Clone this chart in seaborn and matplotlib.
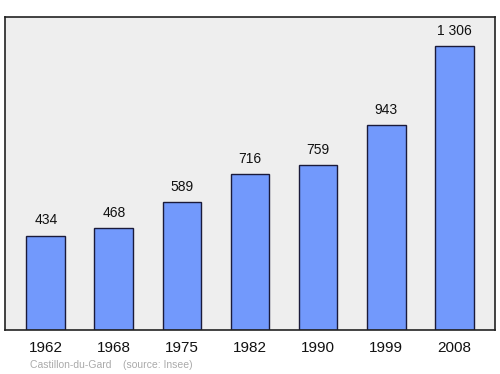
import matplotlib
matplotlib.use("Agg")
import matplotlib.pyplot as plt
import seaborn as sns
import pandas as pd

years = ["1962", "1968", "1975", "1982", "1990", "1999", "2008"]
population = [434, 468, 589, 716, 759, 943, 1306]
labels = ["434", "468", "589", "716", "759", "943", "1 306"]

sns.set_theme(style="white")
plt.rcParams['font.family'] = ['Liberation Sans', 'DejaVu Sans']

df = pd.DataFrame({"year": years, "pop": population})
fig = plt.figure(figsize=(5, 3.74), dpi=100)
ax = fig.add_axes([0.01, 1 - 330/374, 0.98, 313/374])
ax.set_facecolor("#eeeeee")
sns.barplot(data=df, x="year", y="pop", ax=ax, color="#7299fc", saturation=1,
            width=0.57, edgecolor="#1a1a3a", linewidth=1)
ax.set_xlim(-0.6, 6.6)
ax.set_ylim(0, 1439)
for i, (v, t) in enumerate(zip(population, labels)):
    ax.text(i, v + 38, t, ha="center", va="bottom", fontsize=10, color="#111111")
ax.set_yticks([])
ax.set_xlabel("")
ax.set_ylabel("")
ax.tick_params(axis="x", length=0, labelsize=11, pad=8, colors="#111111")
for s in ax.spines.values():
    s.set_visible(True)
    s.set_color("#222222")
    s.set_linewidth(1.2)
fig.text(30/500, 1 - 365/374, "Castillon-du-Gard    (source: Insee)", fontsize=7.5,
         color="#aaaaaa", va="center", ha="left")
fig.savefig("out.png", dpi=100)
